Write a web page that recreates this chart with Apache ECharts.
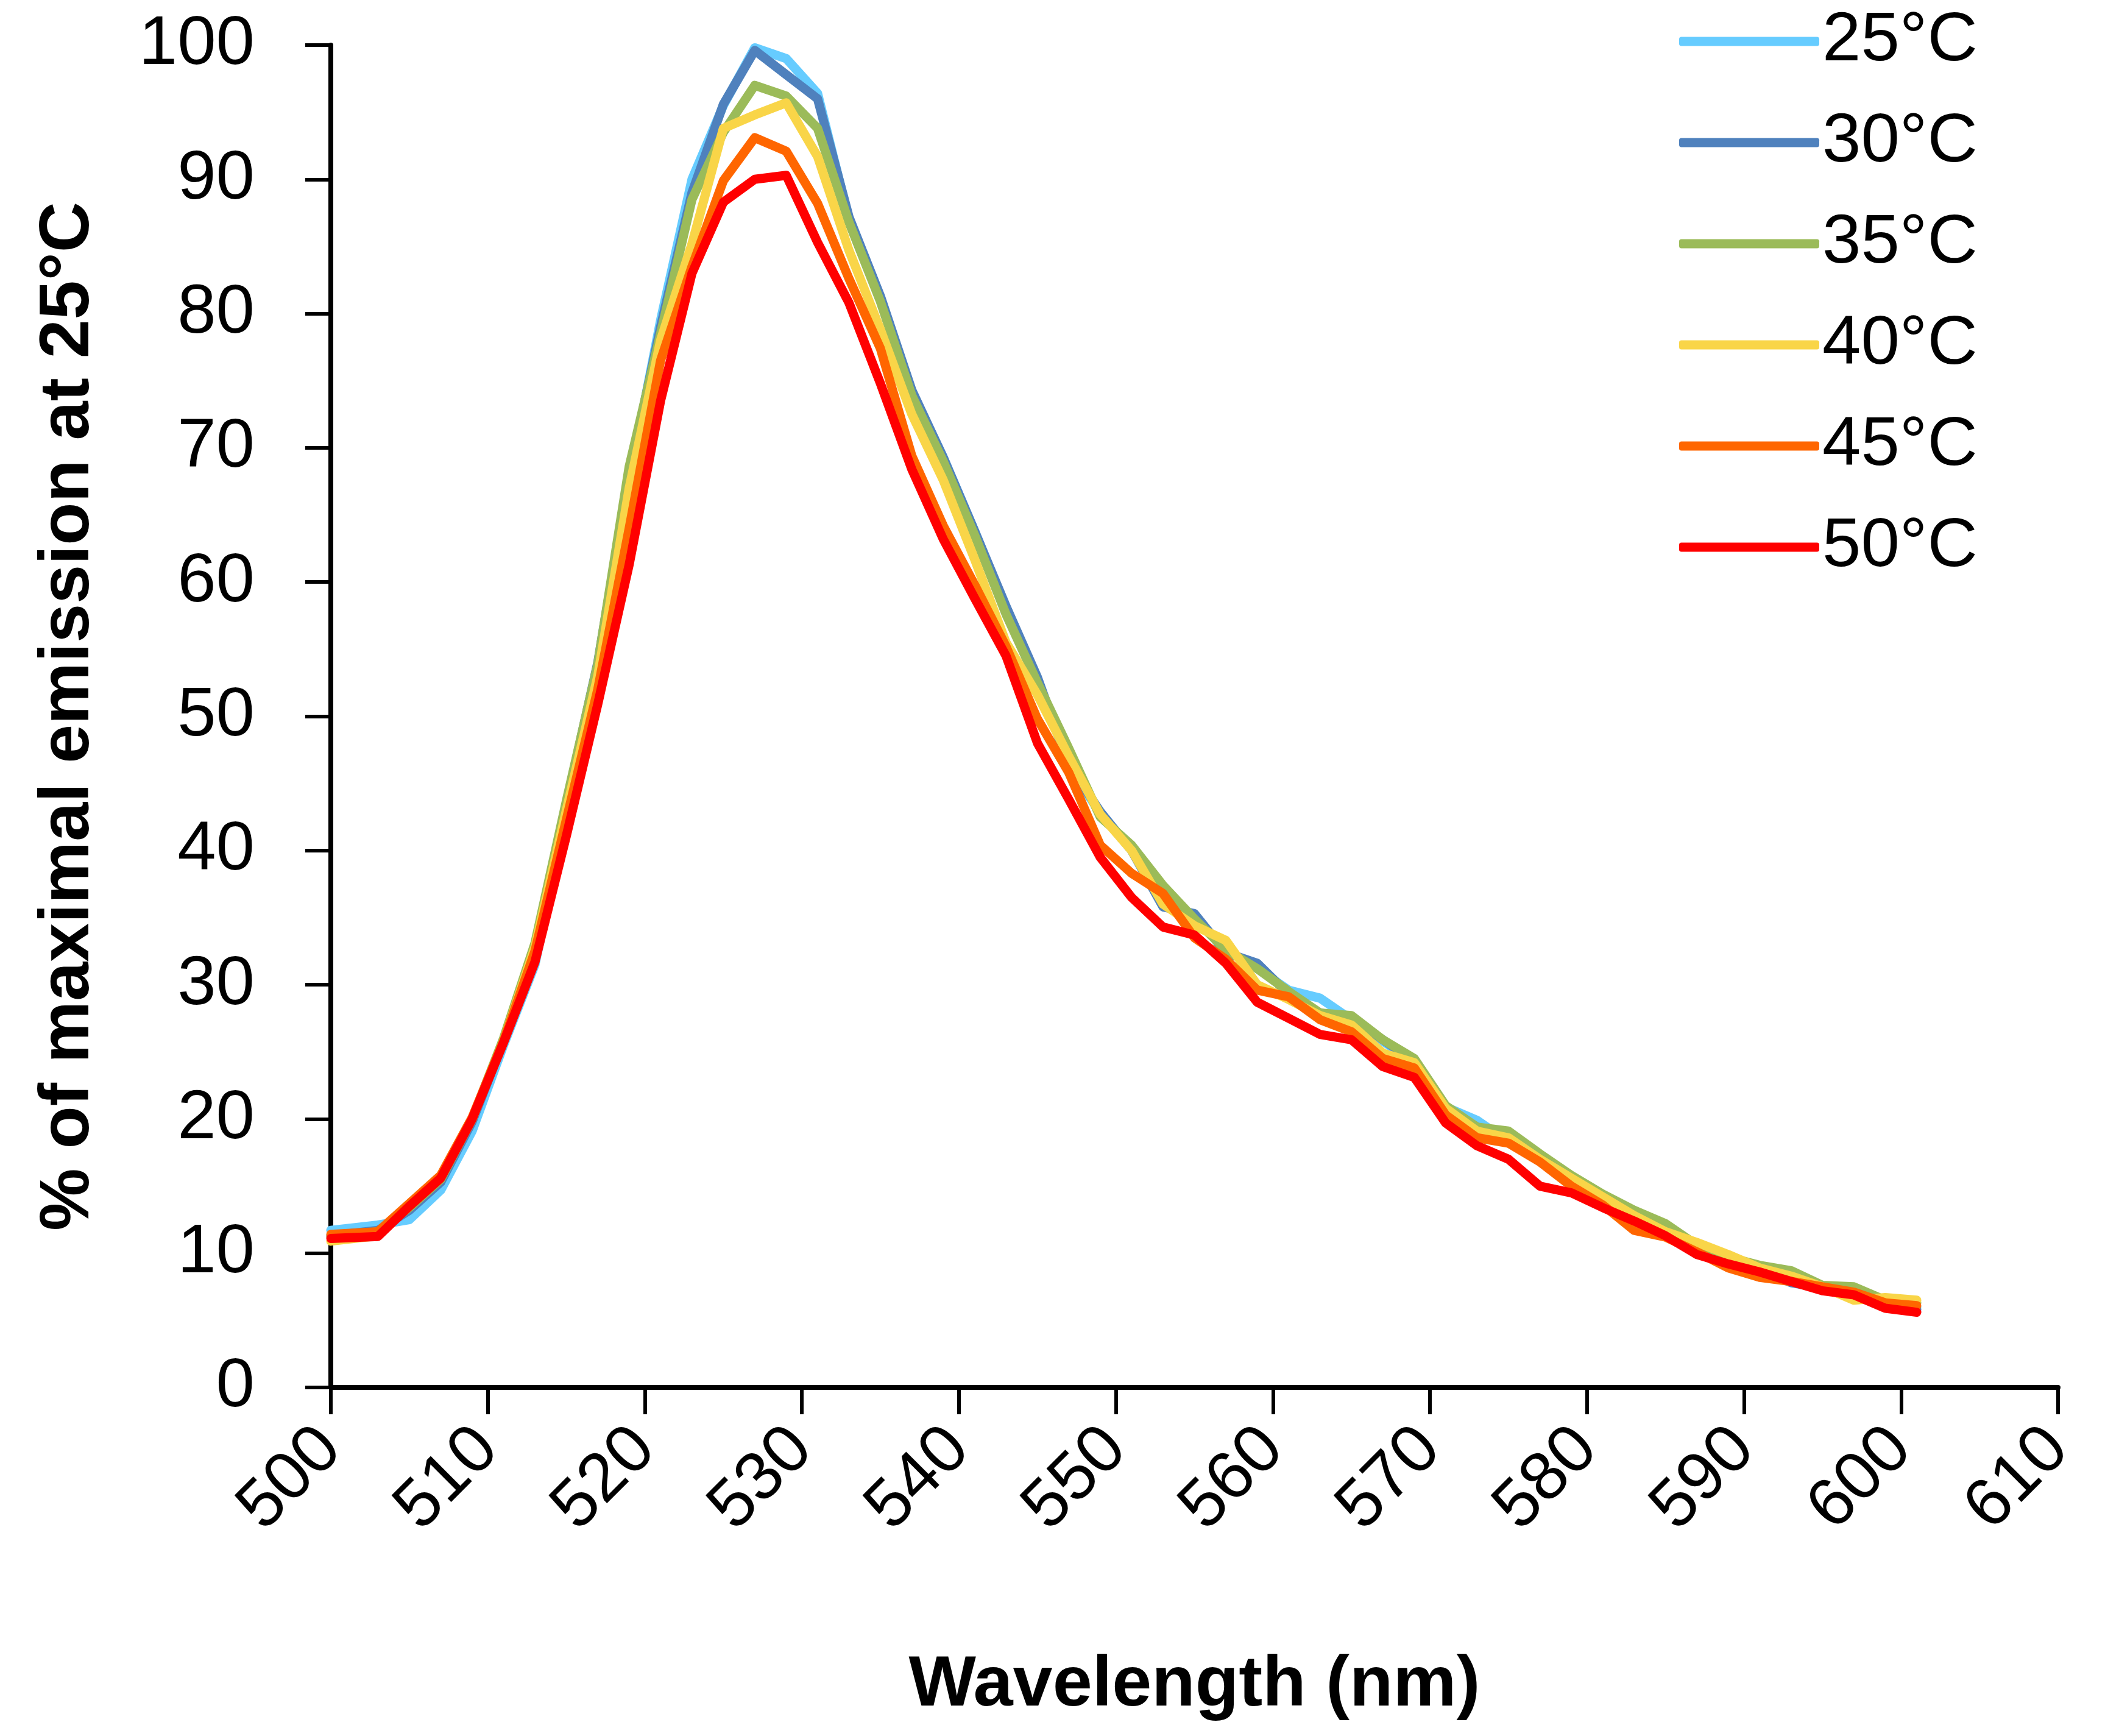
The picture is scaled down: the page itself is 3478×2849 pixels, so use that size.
<!DOCTYPE html>
<html>
<head>
<meta charset="utf-8">
<script src="https://cdn.jsdelivr.net/npm/echarts@6/dist/echarts.min.js"></script>
<style>
html,body{margin:0;padding:0;background:#fff;}
#chart{width:3478px;height:2849px;}
</style>
</head>
<body>
<div id="chart"></div>
<script>
const wavelengths = [500,503,505,507,509,511,513,515,517,519,521,523,525,527,529,531,533,535,537,539,541,543,545,547,549,551,553,555,557,559,561,563,565,567,569,571,573,575,577,579,581,583,585,587,589,591,593,595,597,599,601];

const t25 = [11.7,12.1,12.5,14.7,19.1,25.5,31.5,42.5,53.5,67.5,79.5,90.0,95.5,99.8,99.0,96.4,87.0,81.2,74.2,69.3,63.8,58.0,52.8,46.3,42.8,40.0,36.2,35.0,32.6,31.2,29.6,29.0,27.4,25.8,24.2,20.9,19.9,18.3,16.9,15.6,14.2,13.0,11.9,10.5,9.6,9.0,8.2,7.5,7.2,6.2,6.0];
const t30 = [11.3,11.7,13.2,15.3,19.8,25.8,32.8,43.5,54.0,68.0,79.0,89.0,95.6,99.6,97.8,96.0,87.2,81.3,74.3,69.3,63.8,58.2,52.9,46.4,42.9,40.0,35.8,35.3,32.4,31.6,29.3,27.9,27.5,25.9,24.3,20.8,19.4,18.4,17.0,15.6,14.2,13.0,11.8,10.5,9.5,8.8,7.8,7.4,7.1,6.0,5.8];
const t35 = [11.2,11.6,13.4,15.5,20.0,26.0,33.1,43.7,53.9,68.6,78.5,88.5,93.5,97.0,96.2,93.8,86.8,80.9,73.9,69.0,63.5,57.6,52.5,47.6,42.5,40.4,37.4,34.9,32.6,31.2,29.5,27.9,27.7,25.9,24.5,21.0,19.4,19.1,17.4,15.8,14.4,13.2,12.2,10.6,9.7,9.1,8.7,7.6,7.5,6.5,6.3];
const t40 = [10.9,11.3,13.6,15.7,20.0,25.8,32.8,43.0,53.0,67.0,78.0,85.2,93.8,94.8,95.7,91.7,84.7,78.8,72.5,67.6,61.7,55.5,51.6,47.0,42.7,40.0,36.0,34.4,33.3,30.0,28.9,27.7,27.0,24.9,24.2,20.8,19.1,18.6,17.0,15.6,14.2,12.8,11.6,10.8,9.9,8.9,8.3,7.5,6.5,6.7,6.5];
const t45 = [11.4,11.6,13.7,15.8,20.1,25.8,32.5,42.3,52.0,64.0,76.5,83.5,89.9,93.1,92.1,88.2,82.6,77.4,69.4,64.2,59.8,55.2,49.8,45.8,40.4,38.3,36.8,33.5,31.9,29.6,29.1,27.4,26.5,24.5,23.8,20.3,18.6,18.2,16.8,15.0,13.6,11.7,11.2,10.1,8.9,8.2,7.9,7.5,7.1,6.3,6.1];
const t50 = [11.1,11.25,13.5,15.6,20.0,25.7,31.7,41.1,50.9,61.3,73.5,83.0,88.3,90.0,90.3,85.3,80.8,74.8,68.4,63.2,58.8,54.5,48.0,43.8,39.5,36.5,34.3,33.7,31.6,28.7,27.5,26.3,25.9,23.9,23.1,19.7,18.0,17.0,15.0,14.5,13.4,12.4,11.3,9.9,9.2,8.6,7.9,7.2,6.9,5.9,5.6];

const seriesNames = ['25°C','30°C','35°C','40°C','45°C','50°C'];
const seriesValues = [t25,t30,t35,t40,t45,t50];
const seriesColors = ['#66CCFF','#4F81BD','#9BBB59','#F9D548','#FF6600','#FF0000'];

const yTicks = [0,10,20,30,40,50,60,70,80,90,100];
const xTicks = [500,510,520,530,540,550,560,570,580,590,600,610];

const chart = echarts.init(document.getElementById('chart'), null, {renderer:'canvas'});

const series = seriesNames.map((name,i)=>({
  name: name,
  type: 'line',
  data: wavelengths.map((w,j)=>[w, seriesValues[i][j]]),
  showSymbol: false,
  symbol: 'none',
  lineStyle: {color: seriesColors[i], width: 15, join: 'round', cap: 'round'},
  itemStyle: {color: seriesColors[i]},
  z: 2 + i,
  animation: false,
  emphasis: {disabled: true}
}));

chart.setOption({
  animation: false,
  backgroundColor: '#ffffff',
  grid: {left: 543, right: 100, top: 74, bottom: 572, containLabel: false, outerBoundsMode: 'none'},
  legend: {
    orient: 'vertical',
    left: 2756,
    top: 11,
    padding: 0,
    itemGap: 52,
    itemWidth: 230,
    itemHeight: 15,
    icon: 'roundRect',
    data: seriesNames,
    textStyle: {fontFamily: 'Liberation Sans', fontSize: 114, color: '#000'},
    selectedMode: false
  },
  xAxis: {
    type: 'value',
    min: 500, max: 610, interval: 10,
    name: 'Wavelength (nm)',
    nameLocation: 'middle',
    nameGap: 431,
    nameMoveOverlap: false,
    nameTextStyle: {fontFamily: 'Liberation Sans', fontWeight: 'bold', fontSize: 117, color: '#000'},
    axisLine: {show: true, onZero: false, lineStyle: {color: '#000', width: 8}},
    axisTick: {show: true, inside: false, length: 44, lineStyle: {color: '#000', width: 6}},
    axisLabel: {
      rotate: 45, margin: 84, padding: [51, 0, 0, 0],
      fontFamily: 'Liberation Sans', fontSize: 112, color: '#000',
      formatter: v => xTicks.includes(v) ? String(v) : ''
    },
    splitLine: {show: false}
  },
  yAxis: {
    type: 'value',
    min: 0, max: 100, interval: 10,
    name: '% of maximal emission at 25°C',
    nameLocation: 'middle',
    nameGap: 372,
    nameMoveOverlap: false,
    nameTextStyle: {fontFamily: 'Liberation Sans', fontWeight: 'bold', fontSize: 115, color: '#000'},
    axisLine: {show: true, lineStyle: {color: '#000', width: 8}},
    axisTick: {show: true, inside: false, length: 42, lineStyle: {color: '#000', width: 6}},
    axisLabel: {
      margin: 125, fontFamily: 'Liberation Sans', fontSize: 114, color: '#000',
      formatter: v => yTicks.includes(v) ? String(v) : ''
    },
    splitLine: {show: false}
  },
  series: series
});
</script>
</body>
</html>
